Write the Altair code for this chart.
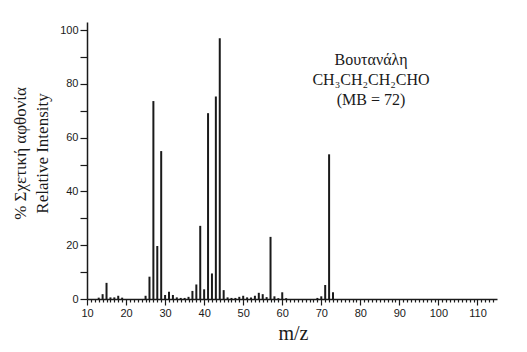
import altair as alt
import pandas as pd

mz = [13, 14, 15, 16, 17, 18, 19, 25, 26, 27, 28, 29, 30, 31, 32, 33, 34, 35, 36,
      37, 38, 39, 40, 41, 42, 43, 44, 45, 46, 47, 48, 49, 50, 51, 52, 53, 54, 55,
      56, 57, 58, 59, 60, 61, 69, 70, 71, 72, 73]
intensity = [0.5, 1.8, 6.0, 0.6, 0.6, 1.2, 0.5, 1.2, 8.3, 73.6, 19.7, 55.0, 1.5, 2.7,
             1.5, 0.6, 0.4, 0.4, 0.8, 3.0, 5.4, 27.2, 3.6, 69.1, 9.5, 75.3, 97.0, 3.3,
             0.6, 0.4, 0.4, 0.8, 1.2, 0.6, 0.6, 1.2, 2.3, 1.8, 0.7, 23.1, 1.0, 0.3,
             2.5, 0.3, 0.4, 1.0, 5.2, 53.8, 2.5]
x_ticks = list(range(10, 115))
y_ticks = list(range(0, 101, 10))
y_title = ["% Σχετική αφθονία", "Relative Intensity"]
x_title = "m/z"
note_lines = ["Βουτανάλη", "CH₃CH₂CH₂CHO", "(MB = 72)"]

df = pd.DataFrame({"mz": mz, "intensity": intensity})

ink = "#1a1a1a"
serif = "Liberation Serif, DejaVu Serif, serif"
sans = "Liberation Sans, Arial, sans-serif"

bars = alt.Chart(df).mark_rule(color=ink, strokeWidth=2).encode(
    x=alt.X("mz:Q", scale=alt.Scale(domain=[10, 115], nice=False, zero=False),
            axis=alt.Axis(values=x_ticks, title=x_title, labelFlush=False,
                          labelExpr="datum.value % 10 === 0 ? datum.label : ''",
                          tickSize={"condition": {"test": "datum.value % 10 === 0", "value": 6}, "value": 3},
                          labelPadding=2, titleFont=serif, titleFontSize=20,
                          titleFontWeight="normal", titlePadding=5, titleX=206)),
    y=alt.Y("intensity:Q", scale=alt.Scale(domain=[0, 103], nice=False),
            axis=alt.Axis(values=y_ticks, title=y_title,
                          labelExpr="datum.value % 20 === 0 ? datum.label : ''",
                          tickSize=7, labelPadding=2, titleFont=serif, titleFontSize=17,
                          titleFontWeight="normal", titlePadding=8, titleLineHeight=22,
                          titleY=131)),
    y2=alt.datum(0),
)

note = alt.Chart(pd.DataFrame({"t": [0]})).mark_text(
    text=note_lines, font=serif, fontSize=16, lineHeight=20, color=ink,
    align="center", baseline="top"
).encode(x=alt.value(284), y=alt.value(30))

chart = alt.layer(bars, note).properties(
    width=410, height=277,
    padding={"left": 87, "top": 22, "right": 30, "bottom": 53},
    autosize=alt.AutoSizeParams(type="none"),
    background="white",
).configure_view(stroke=None).configure_axis(
    domainColor=ink, tickColor=ink, labelColor=ink, titleColor=ink,
    labelFont=sans, labelFontSize=11, grid=False, domainWidth=1.5, tickWidth=1.2,
)

chart.save("out.html", embed_options={"renderer": "svg", "actions": False})
